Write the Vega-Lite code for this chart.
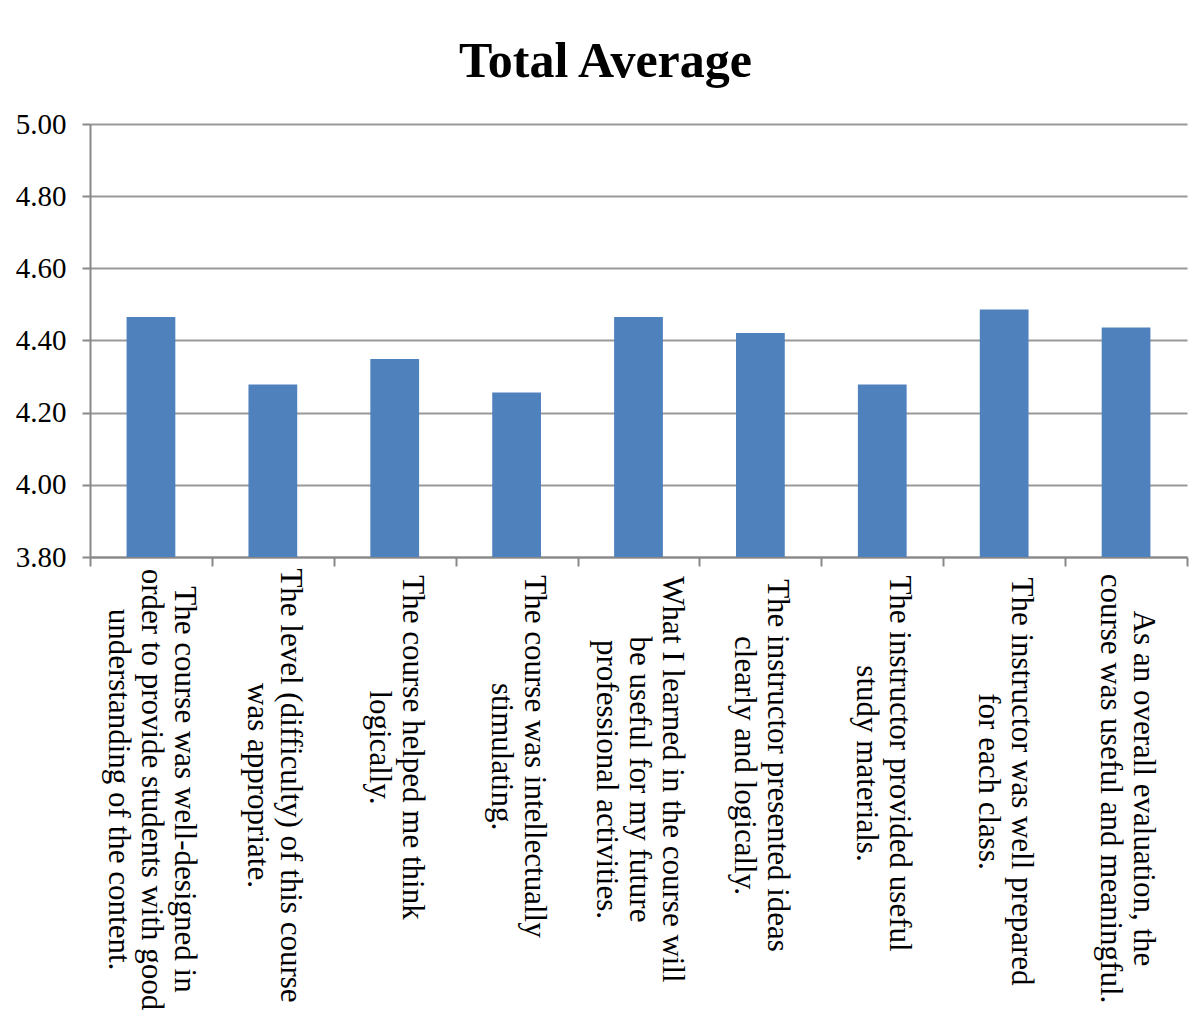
{
  "$schema": "https://vega.github.io/schema/vega-lite/v6.json",
  "width": 1097,
  "height": 433,
  "autosize": {"type": "none"},
  "padding": {"left": 90, "top": 124, "right": 2, "bottom": 455},
  "title": {
    "text": "Total Average",
    "font": "Liberation Serif",
    "fontSize": 50,
    "fontWeight": "bold",
    "color": "#000000",
    "anchor": "middle",
    "dx": -33,
    "dy": 47,
    "baseline": "bottom",
    "offset": 20
  },
  "data": {
    "values": [
      {"item": "The course was well-designed in|order to provide students with good|understanding of the content.", "avg": 4.465},
      {"item": "The level (difficulty) of this course|was appropriate.", "avg": 4.278},
      {"item": "The course helped me think|logically.", "avg": 4.349},
      {"item": "The course was intellectually|stimulating.", "avg": 4.256},
      {"item": "What I learned in the course will|be useful for my future|professional activities.", "avg": 4.465},
      {"item": "The instructor presented ideas|clearly and logically.", "avg": 4.421},
      {"item": "The instructor provided useful|study materials.", "avg": 4.278},
      {"item": "The instructor was well prepared|for each class.", "avg": 4.486},
      {"item": "As an overall evaluation, the|course was useful and meaningful.", "avg": 4.436}
    ]
  },
  "mark": {"type": "bar", "color": "#4F81BD", "width": {"band": 0.4}},
  "encoding": {
    "x": {
      "field": "item",
      "type": "nominal",
      "sort": null,
      "scale": {"paddingInner": 0, "paddingOuter": 0},
      "axis": {
        "title": null,
        "labelExpr": "split(datum.label, '|')",
        "labelAngle": 90,
        "labelAlign": "center",
        "labelBaseline": "middle",
        "labelFont": "Liberation Serif",
        "labelFontSize": 31,
        "labelLineHeight": 33,
        "labelColor": "#000000",
        "labelLimit": 0,
        "labelOverlap": false,
        "labelBound": false,
        "labelPadding": {"condition": {"test": "false", "value": 12}, "expr": "[223,219,181,190,213,199,197,215,222][indexof(domain('x'), datum.value)]"},
        "labelOffset": {"condition": {"test": "false", "value": 0}, "expr": "(length(split(datum.value, '|')) - 1) * 16.5"},
        "tickBand": "extent",
        "tickSize": 9,
        "tickColor": "#888888",
        "tickWidth": 2,
        "domainColor": "#888888",
        "domainWidth": 2,
        "grid": false
      }
    },
    "y": {
      "field": "avg",
      "type": "quantitative",
      "scale": {"domain": [3.8, 5.0], "zero": false, "nice": false, "clamp": true},
      "axis": {
        "title": null,
        "values": [3.8, 4.0, 4.2, 4.4, 4.6, 4.8, 5.0],
        "format": ".2f",
        "labelFont": "Liberation Serif",
        "labelFontSize": 29,
        "labelColor": "#000000",
        "labelPadding": 16,
        "tickSize": 8,
        "tickColor": "#888888",
        "tickWidth": 2,
        "domainColor": "#888888",
        "domainWidth": 2,
        "grid": true,
        "gridColor": "#999999",
        "gridWidth": 2
      }
    }
  },
  "config": {
    "view": {"stroke": null},
    "background": "#ffffff"
  }
}
